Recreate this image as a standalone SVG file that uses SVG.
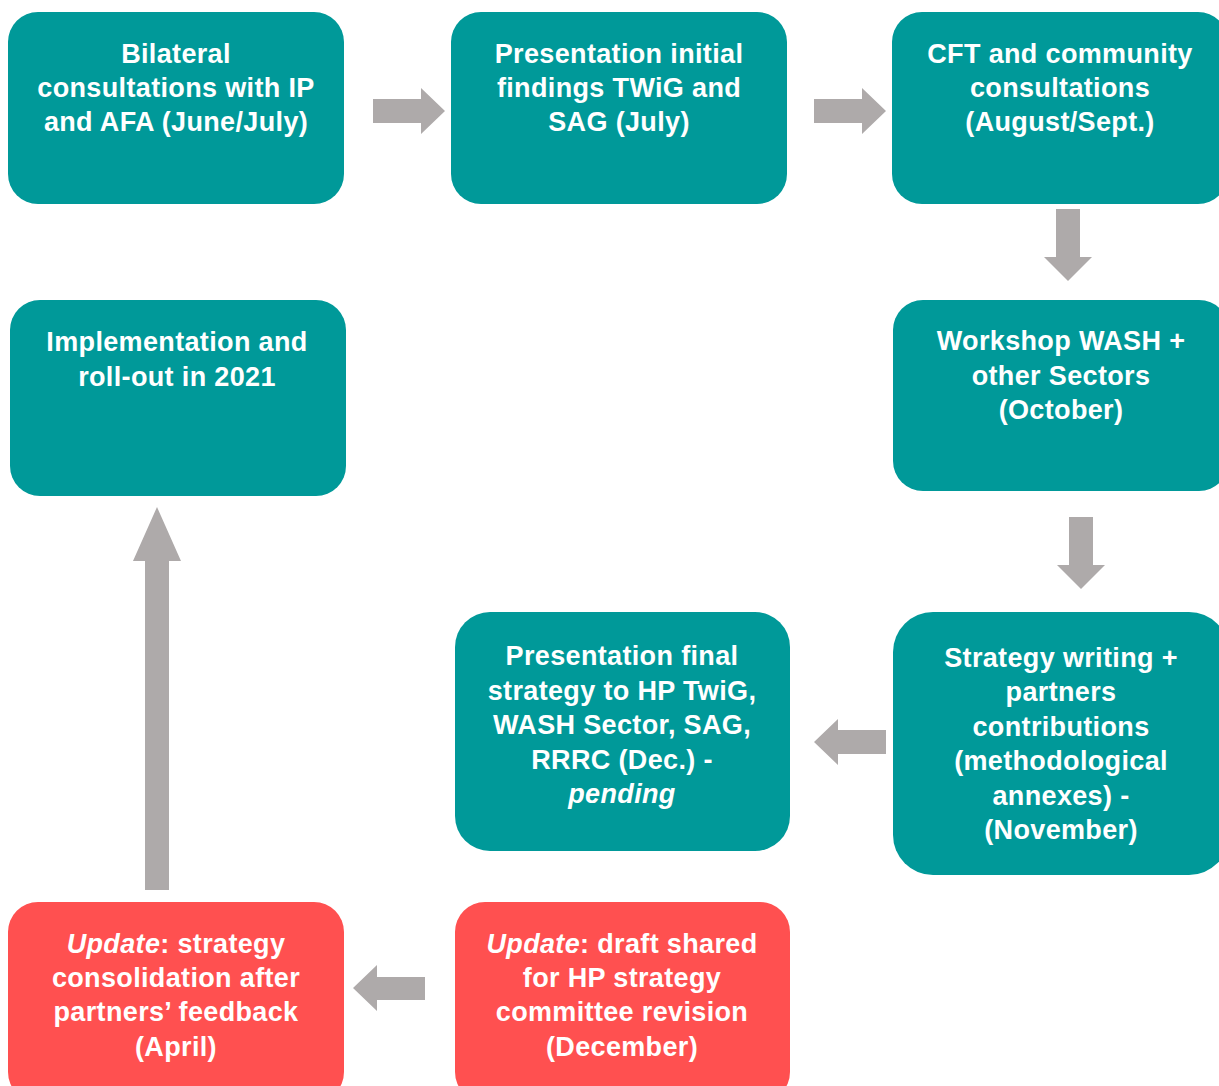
<svg xmlns="http://www.w3.org/2000/svg" width="1219" height="1086" viewBox="0 0 1219 1086">
<style>
.box{fill:#009999}
.red{fill:#FF5050}
.t{font-family:"Liberation Sans",Arial,sans-serif;font-weight:bold;font-size:27px;letter-spacing:0.35px;fill:#ffffff;text-anchor:middle}
.i{font-style:italic}
.arr{fill:#AEAAAA}
</style>
<rect width="1219" height="1086" fill="#ffffff"/>
<g id="connectors">
<polygon class="arr" points="373,99 421,99 421,88 445,111 421,134 421,123 373,123"/>
<polygon class="arr" points="814,99 862,99 862,88 886,111 862,134 862,123 814,123"/>
<polygon class="arr" points="1056,209 1080,209 1080,257 1092,257 1068,281 1044,257 1056,257"/>
<polygon class="arr" points="1069,517 1093,517 1093,565 1105,565 1081,589 1057,565 1069,565"/>
<polygon class="arr" points="886,730 838,730 838,719 814,742 838,765 838,754 886,754"/>
<polygon class="arr" points="425,977 377,977 377,965 353,988 377,1011 377,1000 425,1000"/>
<polygon class="arr" points="145,890 169,890 169,561 181,561 157,507 133,561 145,561"/>
</g>
<g id="n1"><rect class="box" x="8" y="12" width="336" height="192" rx="30"/>
<text class="t" x="176" y="63">Bilateral</text>
<text class="t" x="176" y="97">consultations with IP</text>
<text class="t" x="176" y="131">and AFA (June/July)</text></g>
<g id="n2"><rect class="box" x="451" y="12" width="336" height="192" rx="30"/>
<text class="t" x="619" y="63">Presentation initial</text>
<text class="t" x="619" y="97">findings TWiG and</text>
<text class="t" x="619" y="131">SAG (July)</text></g>
<g id="n3"><rect class="box" x="892" y="12" width="336" height="192" rx="30"/>
<text class="t" x="1060" y="63">CFT and community</text>
<text class="t" x="1060" y="97">consultations</text>
<text class="t" x="1060" y="131">(August/Sept.)</text></g>
<g id="n4"><rect class="box" x="893" y="300" width="336" height="191" rx="30"/>
<text class="t" x="1061" y="350">Workshop WASH +</text>
<text class="t" x="1061" y="385">other Sectors</text>
<text class="t" x="1061" y="419">(October)</text></g>
<g id="n5"><rect class="box" x="10" y="300" width="336" height="196" rx="30"/>
<text class="t" x="177" y="351">Implementation and</text>
<text class="t" x="177" y="386">roll-out in 2021</text></g>
<g id="n6"><rect class="box" x="893" y="612" width="336" height="263" rx="40"/>
<text class="t" x="1061" y="667">Strategy writing +</text>
<text class="t" x="1061" y="701">partners</text>
<text class="t" x="1061" y="736">contributions</text>
<text class="t" x="1061" y="770">(methodological</text>
<text class="t" x="1061" y="805">annexes) -</text>
<text class="t" x="1061" y="839">(November)</text></g>
<g id="n7"><rect class="box" x="455" y="612" width="335" height="239" rx="35"/>
<text class="t" x="622" y="665">Presentation final</text>
<text class="t" x="622" y="700">strategy to HP TwiG,</text>
<text class="t" x="622" y="734">WASH Sector, SAG,</text>
<text class="t" x="622" y="769">RRRC (Dec.) -</text>
<text class="t i" x="622" y="803">pending</text></g>
<g id="n8"><rect class="red" x="455" y="902" width="335" height="200" rx="30"/>
<text class="t" x="622" y="953"><tspan class="i">Update</tspan>: draft shared</text>
<text class="t" x="622" y="987">for HP strategy</text>
<text class="t" x="622" y="1021">committee revision</text>
<text class="t" x="622" y="1056">(December)</text></g>
<g id="n9"><rect class="red" x="8" y="902" width="336" height="200" rx="30"/>
<text class="t" x="176" y="953"><tspan class="i">Update</tspan>: strategy</text>
<text class="t" x="176" y="987">consolidation after</text>
<text class="t" x="176" y="1021">partners’ feedback</text>
<text class="t" x="176" y="1056">(April)</text></g>
</svg>
